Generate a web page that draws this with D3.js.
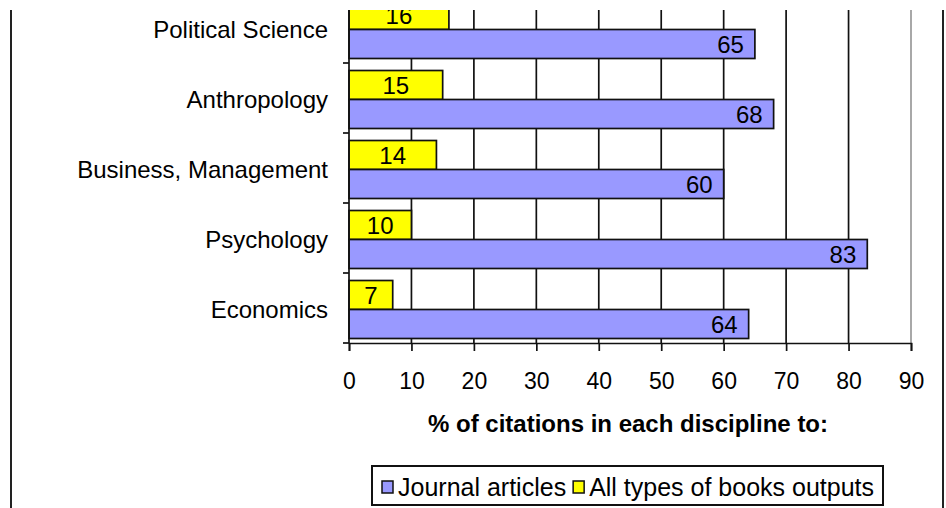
<!DOCTYPE html>
<html lang="en">
<head>
    <meta charset="UTF-8">
    <title>Citations by discipline</title>
    <script src="https://cdn.jsdelivr.net/npm/d3@7/dist/d3.min.js"></script>
    <style>
        body { margin: 0; background: #fff; }
        svg { display: block; }
        text { font-family: "Liberation Sans", Arial, sans-serif; fill: #000; }
    </style>
</head>
<body>
    <div id="chart"></div>
    <script>
        // data, top to bottom
        const disciplines = ['Political Science', 'Anthropology', 'Business, Management', 'Psychology', 'Economics'];
        const books = [16, 15, 14, 10, 7];
        const journals = [65, 68, 60, 83, 64];
        const seriesNames = ['All types of books outputs', 'Journal articles'];
        const xTicks = [0, 10, 20, 30, 40, 50, 60, 70, 80, 90];

        const width = 946, height = 508;
        const topY = 10, axisY = 343;
        const fs = 24;

        const svg = d3.select('#chart').append('svg')
            .attr('width', width)
            .attr('height', height);

        const x = d3.scaleLinear().domain([0, 90]).range([349, 911]);
        // the picture is cropped: first band starts above the visible top
        const y = d3.scaleBand().domain(disciplines).range([-7, axisY]);
        const inner = d3.scaleBand().domain(seriesNames).range([7.5, 65.5]);

        // outer chart border (left / right edges visible)
        svg.append('line').attr('x1', 11).attr('x2', 11).attr('y1', topY).attr('y2', height)
            .attr('stroke', '#222').attr('stroke-width', 2);
        svg.append('line').attr('x1', 943).attr('x2', 943).attr('y1', topY).attr('y2', height)
            .attr('stroke', '#222').attr('stroke-width', 2);

        svg.append('clipPath').attr('id', 'plotClip')
            .append('rect').attr('x', 0).attr('y', topY).attr('width', width).attr('height', axisY - topY + 1);

        const plot = svg.append('g').attr('clip-path', 'url(#plotClip)');

        // gridlines
        plot.selectAll('.grid')
            .data(xTicks.filter(d => d > 0 && d < 90))
            .enter().append('line')
            .attr('x1', d => x(d)).attr('x2', d => x(d))
            .attr('y1', topY).attr('y2', axisY)
            .attr('stroke', '#111').attr('stroke-width', 1.7);

        // plot area right border
        plot.append('line').attr('x1', x(90)).attr('x2', x(90))
            .attr('y1', topY).attr('y2', axisY)
            .attr('stroke', '#999').attr('stroke-width', 1.7);

        const rows = disciplines.map((d, i) => ({ name: d, books: books[i], journal: journals[i] }));

        const groups = plot.selectAll('.row')
            .data(rows)
            .enter().append('g')
            .attr('transform', d => `translate(0,${y(d.name)})`);

        // books (yellow) bars
        groups.append('rect')
            .attr('x', x(0))
            .attr('y', inner(seriesNames[0]))
            .attr('width', d => x(d.books) - x(0))
            .attr('height', inner.bandwidth())
            .attr('fill', '#ffff00')
            .attr('stroke', '#111').attr('stroke-width', 1.7);

        // journal (blue) bars
        groups.append('rect')
            .attr('x', x(0))
            .attr('y', inner(seriesNames[1]))
            .attr('width', d => x(d.journal) - x(0))
            .attr('height', inner.bandwidth())
            .attr('fill', '#9999ff')
            .attr('stroke', '#111').attr('stroke-width', 1.7);

        groups.append('text')
            .attr('x', d => (x(0) + x(d.books)) / 2)
            .attr('y', inner(seriesNames[0]) + inner.bandwidth() / 2)
            .attr('dy', '0.36em')
            .attr('text-anchor', 'middle')
            .style('font-size', fs + 'px')
            .text(d => d.books);

        groups.append('text')
            .attr('x', d => x(d.journal) - 11)
            .attr('y', inner(seriesNames[1]) + inner.bandwidth() / 2)
            .attr('dy', '0.36em')
            .attr('text-anchor', 'end')
            .style('font-size', fs + 'px')
            .text(d => d.journal);

        // y axis
        svg.append('line').attr('x1', x(0)).attr('x2', x(0)).attr('y1', topY).attr('y2', axisY)
            .attr('stroke', '#111').attr('stroke-width', 1.7);
        const bounds = disciplines.map(d => y(d) + y.bandwidth()).concat([y(disciplines[0])]);
        svg.selectAll('.ytick')
            .data(bounds.filter(b => b >= topY))
            .enter().append('line')
            .attr('x1', x(0) - 6).attr('x2', x(0))
            .attr('y1', d => d).attr('y2', d => d)
            .attr('stroke', '#111').attr('stroke-width', 1.7);

        svg.selectAll('.ylabel')
            .data(disciplines)
            .enter().append('text')
            .attr('x', 328)
            .attr('y', d => y(d) + y.bandwidth() / 2 + 1)
            .attr('dy', '0.36em')
            .attr('text-anchor', 'end')
            .style('font-size', fs + 'px')
            .text(d => d);

        // x axis
        const xAxis = svg.append('g')
            .attr('transform', `translate(0,${axisY})`)
            .call(d3.axisBottom(x).tickValues(xTicks).tickSize(8).tickPadding(22));
        xAxis.select('.domain').attr('stroke', '#111').attr('stroke-width', 1.7);
        xAxis.selectAll('.tick line').attr('stroke', '#111').attr('stroke-width', 1.7);
        xAxis.selectAll('.tick text')
            .style('font-size', '23px')
            .style('font-family', '"Liberation Sans", Arial, sans-serif')
            .attr('fill', '#000');

        svg.append('text')
            .attr('x', 628)
            .attr('y', 423)
            .attr('dy', '0.36em')
            .attr('text-anchor', 'middle')
            .style('font-size', '24px')
            .style('font-weight', 'bold')
            .text('% of citations in each discipline to:');

        // legend
        const legend = svg.append('g');
        legend.append('rect')
            .attr('x', 372).attr('y', 466).attr('width', 511).attr('height', 39)
            .attr('fill', '#fff').attr('stroke', '#111').attr('stroke-width', 2);

        const legendItems = [
            { name: seriesNames[1], color: '#9999ff' },
            { name: seriesNames[0], color: '#ffff00' }
        ];
        let lx = 382;
        legendItems.forEach(item => {
            legend.append('rect')
                .attr('x', lx).attr('y', 481).attr('width', 11).attr('height', 12)
                .attr('fill', item.color).attr('stroke', '#111').attr('stroke-width', 1.5);
            const t = legend.append('text')
                .attr('x', lx + 16)
                .attr('y', 487)
                .attr('dy', '0.36em')
                .style('font-size', '25px')
                .text(item.name);
            lx += 16 + t.node().getComputedTextLength() + 7;
        });
    </script>
</body>
</html>
